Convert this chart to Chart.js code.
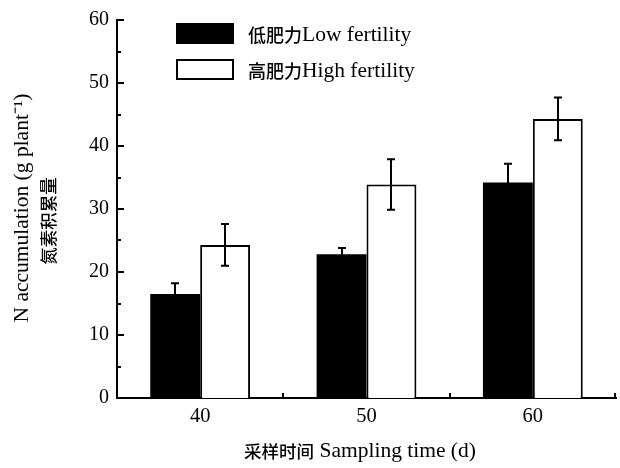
<!DOCTYPE html>
<html>
<head>
<meta charset="utf-8">
<script src="https://cdn.jsdelivr.net/npm/chart.js@4"></script>
<style>
html,body{margin:0;padding:0;background:#fff;}
#wrap{width:620px;height:468px;}
</style>
</head>
<body>
<div id="wrap"><canvas id="c" width="620" height="468"></canvas></div>
<script>
const categories = ['40', '50', '60'];
const lowFertility = [16.5, 22.8, 34.2];
const highFertility = [24.3, 33.9, 44.3];
const lowErr = [1.7, 1.0, 3.0];
const highErr = [3.3, 4.0, 3.4];
const seriesLabels = ['低肥力Low fertility', '高肥力High fertility'];
const yTitleLines = ['N accumulation (g plant\u207B\u00B9)', '氮素积累量'];
const xTitle = '采样时间 Sampling time (d)';

const LATIN = '"Liberation Serif", "Times New Roman", serif';
const CJK = '"Noto Sans CJK SC", sans-serif';

function splitRuns(text) {
  const runs = [];
  for (const ch of text) {
    const isCjk = /[\u3000-\u9fff\uff00-\uffef]/.test(ch);
    if (runs.length && runs[runs.length - 1].cjk === isCjk) runs[runs.length - 1].t += ch;
    else runs.push({ t: ch, cjk: isCjk });
  }
  return runs;
}
function drawMixed(ctx, text, x, y, align, latinSize, cjkSize) {
  const runs = splitRuns(text);
  let total = 0;
  runs.forEach(r => {
    ctx.font = (r.cjk ? '500 ' + cjkSize + 'px ' + CJK : latinSize + 'px ' + LATIN);
    r.w = ctx.measureText(r.t).width;
    total += r.w;
  });
  let cx = align === 'center' ? x - total / 2 : x;
  ctx.textAlign = 'left';
  ctx.textBaseline = 'alphabetic';
  runs.forEach(r => {
    ctx.font = (r.cjk ? '500 ' + cjkSize + 'px ' + CJK : latinSize + 'px ' + LATIN);
    ctx.fillText(r.t, cx, y + (r.cjk ? 1 : 0));
    cx += r.w;
  });
}

const errorBars = {
  id: 'errorBars',
  afterDatasetsDraw(chart) {
    const ctx = chart.ctx, y = chart.scales.y;
    const errs = [lowErr, highErr];
    ctx.save();
    ctx.strokeStyle = '#000';
    ctx.lineWidth = 2;
    chart.data.datasets.forEach((ds, di) => {
      const meta = chart.getDatasetMeta(di);
      meta.data.forEach((bar, i) => {
        const v = ds.data[i], e = errs[di][i];
        const x = Math.round(bar.x);
        const yt = y.getPixelForValue(v + e), yb = y.getPixelForValue(v - e);
        ctx.beginPath();
        ctx.moveTo(x, yt); ctx.lineTo(x, yb);
        ctx.moveTo(x - 4, yt); ctx.lineTo(x + 4, yt);
        ctx.moveTo(x - 4, yb); ctx.lineTo(x + 4, yb);
        ctx.stroke();
      });
    });
    ctx.restore();
  }
};

const decorations = {
  id: 'decorations',
  afterDraw(chart) {
    const ctx = chart.ctx, ca = chart.chartArea;
    const y = chart.scales.y;
    ctx.save();
    ctx.strokeStyle = '#000';
    ctx.fillStyle = '#000';
    ctx.lineWidth = 2;
    // inward y ticks
    for (let v = 0; v <= 60; v += 5) {
      const py = Math.round(y.getPixelForValue(v));
      const len = (v % 10 === 0) ? 7 : 4;
      ctx.beginPath(); ctx.moveTo(ca.left, py); ctx.lineTo(ca.left + len, py); ctx.stroke();
    }
    // inward x ticks at category boundaries
    const n = categories.length;
    const w = (ca.right - ca.left) / n;
    for (let i = 1; i <= n; i++) {
      const px = Math.round(ca.left + w * i) - (i === n ? 1 : 0);
      ctx.beginPath(); ctx.moveTo(px, ca.bottom); ctx.lineTo(px, ca.bottom - 5); ctx.stroke();
    }
    // legend
    const boxX = 176, boxW = 58, boxH = 21;
    const rows = [23, 59];
    ctx.fillStyle = '#000';
    ctx.fillRect(boxX, rows[0], boxW, boxH);
    ctx.fillStyle = '#fff';
    ctx.fillRect(boxX, rows[1], boxW, boxH);
    ctx.strokeRect(boxX + 1, rows[1] + 1, boxW - 2, boxH - 2);
    ctx.fillStyle = '#000';
    drawMixed(ctx, seriesLabels[0], 248, 41, 'left', 21.5, 18);
    drawMixed(ctx, seriesLabels[1], 248, 77, 'left', 21.5, 18);
    // x title
    drawMixed(ctx, xTitle, 360, 457, 'center', 21.5, 17.5);
    // y title
    ctx.save();
    ctx.translate(28, 208);
    ctx.rotate(-Math.PI / 2);
    drawMixed(ctx, yTitleLines[0], 0, 0, 'center', 21.5, 17);
    ctx.restore();
    ctx.save();
    ctx.translate(54, 221);
    ctx.rotate(-Math.PI / 2);
    drawMixed(ctx, yTitleLines[1], 0, 0, 'center', 21.5, 17.5);
    ctx.restore();
    ctx.restore();
  }
};

new Chart(document.getElementById('c'), {
  type: 'bar',
  data: {
    labels: categories,
    datasets: [
      { label: seriesLabels[0], data: lowFertility, backgroundColor: '#000', borderColor: '#000', borderWidth: 0 },
      { label: seriesLabels[1], data: highFertility, backgroundColor: '#fff', borderColor: '#000', borderWidth: 2 }
    ]
  },
  options: {
    responsive: false,
    animation: false,
    devicePixelRatio: 1,
    layout: { padding: { left: 0, right: 4, top: 18, bottom: 0 } },
    plugins: { legend: { display: false }, tooltip: { enabled: false } },
    datasets: { bar: { categoryPercentage: 0.6, barPercentage: 1.0 } },
    scales: {
      x: {
        grid: { display: false, offset: true },
        border: { display: true, color: '#000', width: 2 },
        ticks: { color: '#000', font: { family: LATIN, size: 20.5 }, padding: -2 },
        afterFit(s) { s.height = 70; }
      },
      y: {
        min: 0, max: 60,
        grid: { display: false, drawTicks: false },
        border: { display: true, color: '#000', width: 2 },
        ticks: { stepSize: 10, color: '#000', font: { family: LATIN, size: 20 }, padding: 8 },
        afterFit(s) { s.width = 117; }
      }
    }
  },
  plugins: [errorBars, decorations]
});
</script>
</body>
</html>
